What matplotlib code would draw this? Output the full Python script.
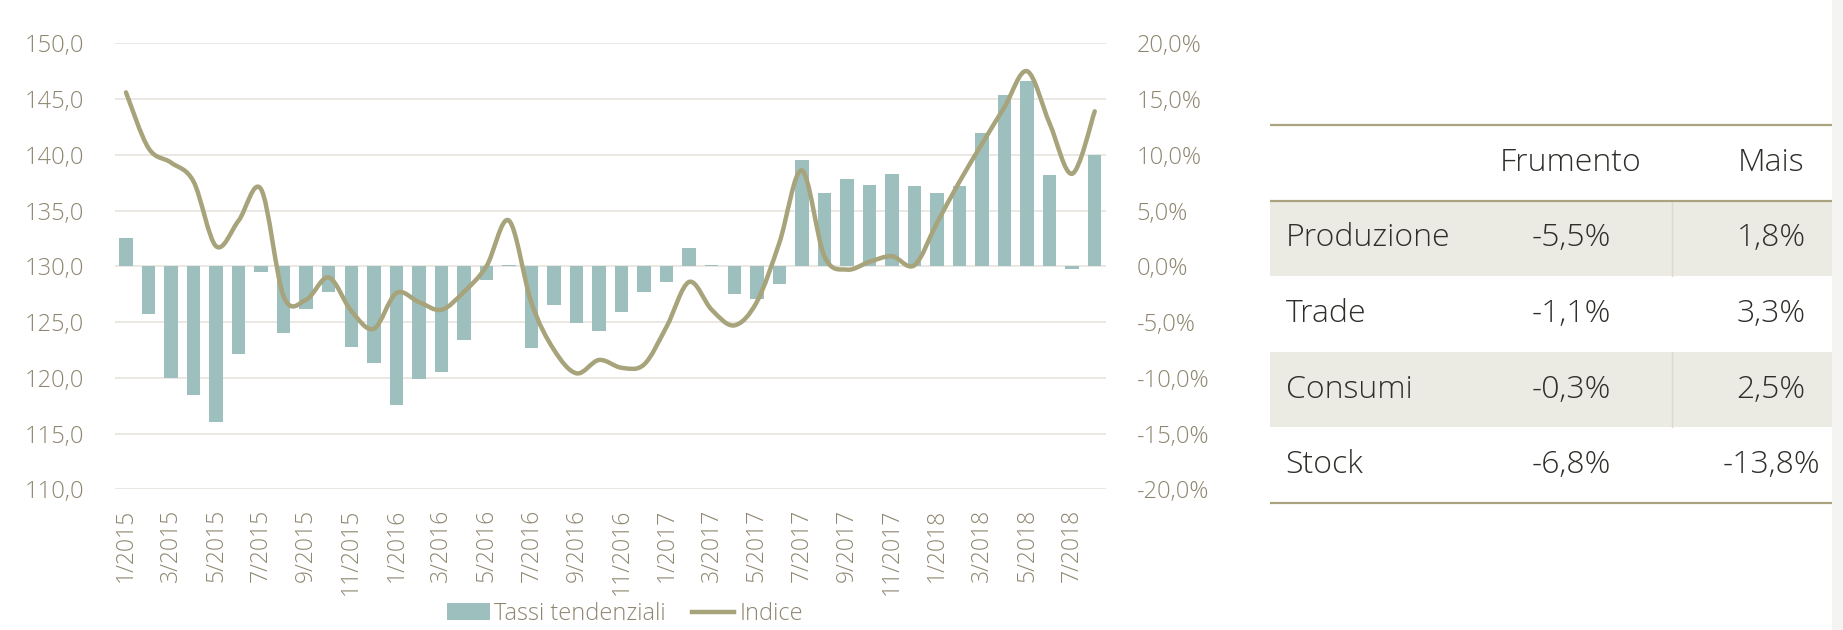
import numpy as np
import matplotlib
matplotlib.use("Agg")
import matplotlib.pyplot as plt
from matplotlib.path import Path
from matplotlib.patches import PathPatch, Patch, Rectangle
from matplotlib.lines import Line2D
from matplotlib.ticker import FuncFormatter, MultipleLocator

# -- data --
months = [f"{m}/{y}" for y in (2015, 2016, 2017, 2018) for m in range(1, 13)][:44]

tassi = [2.5, -4.3, -10.0, -11.5, -14.0, -7.9, -0.5, -6.0, -3.8, -2.3, -7.2, -8.7,
         -12.4, -10.1, -9.5, -6.6, -1.2, 0.15, -7.3, -3.5, -5.1, -5.8, -4.1, -2.3,
         -1.4, 1.6, 0.15, -2.5, -2.9, -1.6, 9.5, 6.6, 7.8, 7.3, 8.3, 7.2,
         6.6, 7.2, 12.0, 15.4, 16.6, 8.2, -0.2, 10.0]

indice = [145.6, 140.6, 139.3, 137.6, 131.8, 134.1, 136.9, 127.3, 127.0, 129.0, 126.0, 124.4,
          127.6, 126.8, 126.1, 127.7, 130.0, 134.1, 126.7, 122.5, 120.4, 121.6, 120.9, 121.2,
          124.6, 128.6, 126.1, 124.7, 126.8, 132.1, 138.6, 130.9, 129.7, 130.4, 130.9, 130.1,
          133.9, 137.6, 141.0, 144.3, 147.5, 142.8, 138.3, 143.9]

tab_cols = ["Frumento", "Mais"]
tab_rows = ["Produzione", "Trade", "Consumi", "Stock"]
frumento = ["-5,5%", "-1,1%", "-0,3%", "-6,8%"]
mais = ["1,8%", "3,3%", "2,5%", "-13,8%"]

# -- style --
BAR = "#9dbfbe"
LINE = "#a7a37b"
TICK = "#8e8670"
GRID = "#e9e5df"
RULE = "#a9a47f"
SHADE = "#ecebe3"
TXT = "#2e2e2a"

plt.rcParams['font.family'] = ['Open Sans', 'DejaVu Sans']
plt.rcParams['font.weight'] = 'light'

W, H = 1843, 630
fig = plt.figure(figsize=(W / 100, H / 100), dpi=100)

# background axes in pixel coords (table + edge)
bg = fig.add_axes([0, 0, 1, 1])
bg.set_xlim(0, W)
bg.set_ylim(H, 0)
bg.axis("off")
bg.set_zorder(-5)

# -- chart --
left, right, top, bot = 114.7, 1106, 43.3, 489.3
ax2 = fig.add_axes([left / W, 1 - bot / H, (right - left) / W, (bot - top) / H])
ax = ax2.twinx()
ax.yaxis.set_label_position("left")
ax.yaxis.tick_left()
ax2.yaxis.set_label_position("right")
ax2.yaxis.tick_right()

x = np.arange(len(months))
ax2.bar(x, tassi, width=0.6, color=BAR, zorder=2)
ax2.set_ylim(-20, 20)
ax2.set_xlim(-0.5, len(months) - 0.5)
ax2.yaxis.set_major_locator(MultipleLocator(5))
ax2.yaxis.set_major_formatter(FuncFormatter(lambda v, p: f"{v:.1f}%".replace(".", ",")))
ax2.grid(axis="y", color=GRID, lw=1.3)
ax2.set_axisbelow(True)

# smoothed line as bezier path through the points
pts = np.column_stack([x, indice]).astype(float)
ext = np.vstack([pts[0], pts, pts[-1]])
verts = [pts[0]]
codes = [Path.MOVETO]
for i in range(len(pts) - 1):
    p0, p1, p2, p3 = ext[i], ext[i + 1], ext[i + 2], ext[i + 3]
    verts += [p1 + (p2 - p0) / 6, p2 - (p3 - p1) / 6, p2]
    codes += [Path.CURVE4] * 3
ax.add_patch(PathPatch(Path(verts, codes), fill=False, edgecolor=LINE, lw=3.2,
                       capstyle="round", joinstyle="round", zorder=3))
ax.set_ylim(110, 150)
ax.yaxis.set_major_locator(MultipleLocator(5))
ax.yaxis.set_major_formatter(FuncFormatter(lambda v, p: f"{v:.1f}".replace(".", ",")))

ax.set_zorder(ax2.get_zorder() + 1)
ax.patch.set_visible(False)

ax2.set_xticks(x[::2])
ax2.set_xticklabels(months[::2], rotation=90)

for a in (ax, ax2):
    for s in a.spines.values():
        s.set_visible(False)
    a.tick_params(length=0, labelsize=17, labelcolor=TICK)
ax2.tick_params(axis="x", labelsize=16.5)
ax.tick_params(axis="y", pad=22)
ax2.tick_params(axis="y", pad=22)
ax2.tick_params(axis="x", pad=14)

handles = [Patch(facecolor=BAR), Line2D([0], [0], color=LINE, lw=3.2)]
fig.legend(handles, ["Tassi tendenziali", "Indice"], loc="center",
           bbox_to_anchor=(625 / W, 1 - 614 / H), ncol=2, frameon=False,
           fontsize=17, labelcolor=TICK, handlelength=1.8, handleheight=0.7,
           handletextpad=0.2, columnspacing=1.1)

# -- table --
tx0, tx1 = 1270, 1832
row_h = 75.6
y0 = 125
fs = 23
for k, lab in enumerate(tab_rows):
    ry = y0 + row_h * (k + 1)
    if k % 2 == 0:
        bg.add_patch(Rectangle((tx0, ry), tx1 - tx0, row_h, color=SHADE, lw=0))
        bg.plot([1671.5, 1671.5], [ry, ry + row_h], color="#dcd9cc", lw=1)
    cy = ry + row_h / 2
    bg.text(1285.6, cy, lab, ha="left", va="center", fontsize=fs, color=TXT)
    bg.text(1571, cy, frumento[k], ha="center", va="center", fontsize=fs, color=TXT)
    bg.text(1771, cy, mais[k], ha="center", va="center", fontsize=fs, color=TXT)
bg.text(1571, y0 + row_h / 2, tab_cols[0], ha="center", va="center", fontsize=fs, color=TXT)
bg.text(1771, y0 + row_h / 2, tab_cols[1], ha="center", va="center", fontsize=fs, color=TXT)
for ly in (y0, y0 + row_h, y0 + row_h * 5):
    bg.plot([tx0, tx1], [ly, ly], color=RULE, lw=1.6, solid_capstyle="butt")

# light grey edge on the right
bg.add_patch(Rectangle((1832, 0), 11, H, color="#f4f4f3", lw=0))

fig.savefig("out.png", dpi=100)
